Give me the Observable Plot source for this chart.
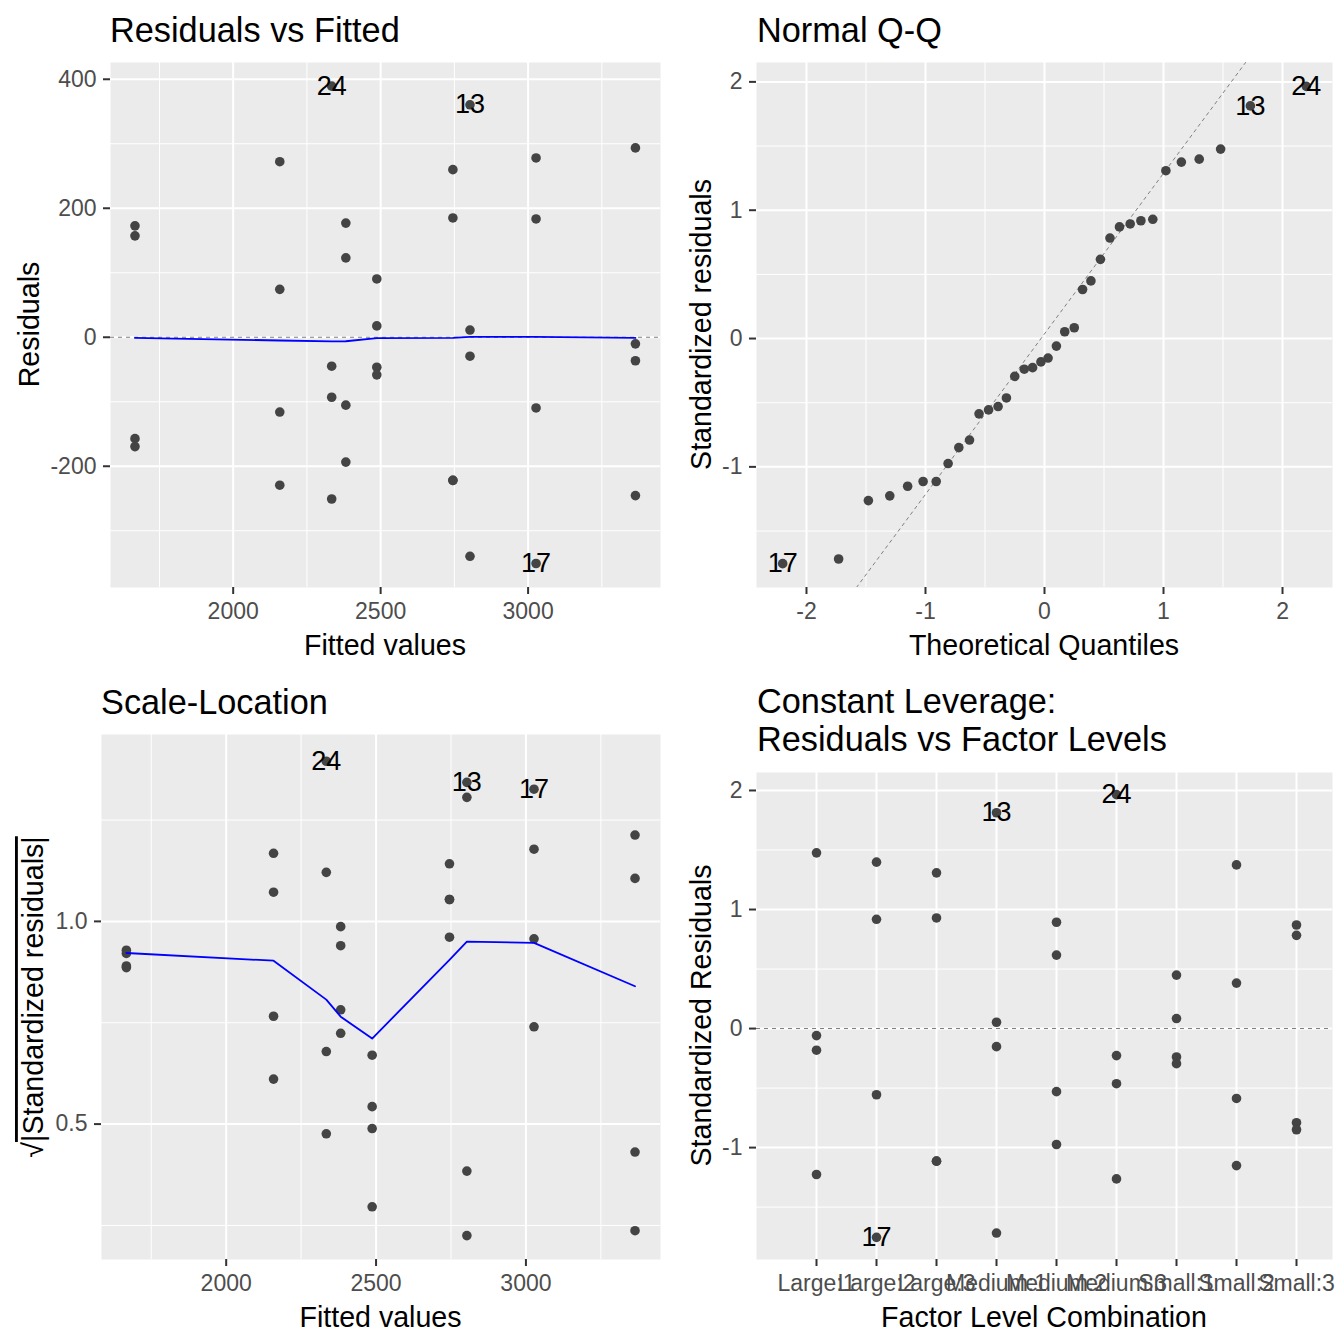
<!DOCTYPE html>
<html><head><meta charset="utf-8">
<script src="https://cdn.jsdelivr.net/npm/d3@7"></script>
<script src="https://cdn.jsdelivr.net/npm/@observablehq/plot@0.6"></script>
<style>
html,body{margin:0;padding:0;background:#fff;}
#root{position:relative;width:1344px;height:1344px;background:#fff;}
#root svg{position:absolute;}
</style></head><body><div id="root"></div>
<script>
// ---------- data ----------
const levels = ["Large:1","Large:2","Large:3","Medium:1","Medium:2","Medium:3","Small:1","Small:2","Small:3"];
const levelFitted = [3364, 3027, 2745, 2803, 2382, 2334, 2487, 2158, 1667];
const residuals = [
  [293.6, -10.2, -36.4, -245.5],
  [278.0, 183.4, -109.6, -350.8],
  [259.9, 185.0, -221.9, -221.9],
  [360.4, 11.2, -29.4, -339.6],
  [177.0, 123.0, -105.3, -193.6],
  [389.3, -44.9, -93.0, -250.8],
  [90.4, 17.6, -46.5, -58.3],
  [272.2, 74.3, -116.0, -229.4],
  [172.7, 157.2, -157.2, -169.5]
];
const stdResiduals = [
  [1.476, -0.059, -0.182, -1.226],
  [1.398, 0.918, -0.556, -1.754],
  [1.308, 0.929, -1.114, -1.114],
  [1.813, 0.053, -0.152, -1.718],
  [0.893, 0.617, -0.530, -0.974],
  [1.965, -0.227, -0.463, -1.263],
  [0.449, 0.084, -0.239, -0.295],
  [1.375, 0.382, -0.587, -1.151],
  [0.870, 0.783, -0.791, -0.850]
];
const sqrtStdResiduals = [
  [1.213, 0.237, 0.431, 1.106],
  [1.178, 0.957, 0.740, 1.326],
  [1.142, 0.961, 1.054, 1.054],
  [1.343, 0.225, 0.384, 1.306],
  [0.940, 0.782, 0.724, 0.987],
  [1.395, 0.476, 0.679, 1.121],
  [0.670, 0.296, 0.489, 0.543],
  [1.168, 0.611, 0.766, 1.072],
  [0.929, 0.886, 0.890, 0.921]
];
const pointLabels = [
  ["","","",""],["","","","17"],["","","",""],["13","","",""],["","","",""],
  ["24","","",""],["","","",""],["","","",""],["","","",""]
];
const qqTheoretical = [-2.20,-1.73,-1.48,-1.30,-1.15,-1.02,-0.91,-0.81,-0.72,-0.63,-0.55,-0.47,-0.39,-0.32,-0.25,-0.17,-0.10,-0.03,
  0.03,0.10,0.17,0.25,0.32,0.39,0.47,0.55,0.63,0.72,0.81,0.91,1.02,1.15,1.30,1.48,1.73,2.20];
const qqSample = [-1.754,-1.718,-1.263,-1.226,-1.151,-1.114,-1.114,-0.974,-0.850,-0.791,-0.587,-0.556,-0.530,-0.463,-0.295,-0.239,-0.227,-0.182,
  -0.152,-0.059,0.053,0.084,0.382,0.449,0.617,0.783,0.870,0.893,0.918,0.929,1.308,1.375,1.398,1.476,1.813,1.965];
const qqLabelIndex = {0: "17", 34: "13", 35: "24"};
const qqLineX = [-1.58, 1.69];
const qqLineY = [-1.94, 2.151];
const smoothFitted = [1667, 2158, 2334, 2382, 2487, 2745, 2803, 3027, 3364];
const smoothResid = [-1.0, -5.0, -6.3, -6.2, -1.5, -1.0, 0.5, 0.5, -1.0];
const smoothScale = [0.922, 0.903, 0.807, 0.765, 0.711, 0.905, 0.950, 0.947, 0.840];

const fitTicks = [2000, 2500, 3000], fitMinor = [1750, 2250, 2750, 3250];
const residTicks = [-200, 0, 200, 400], residMinor = [-300, -100, 100, 300];
const qTicks = [-2, -1, 0, 1, 2], qMinor = [-1.5, -0.5, 0.5, 1.5];
const stdTicks = [-1, 0, 1, 2], stdMinor = [-1.5, -0.5, 0.5, 1.5];
const sqTicks = [0.5, 1.0], sqMinor = [0.25, 0.75, 1.25];
const levelTicks = [1,2,3,4,5,6,7,8,9];

// ---------- tables ----------
const obs = [];
levels.forEach((lv, i) => residuals[i].forEach((r, j) => obs.push({
  level: lv, li: i + 1, fitted: levelFitted[i], resid: r,
  std: stdResiduals[i][j], sq: sqrtStdResiduals[i][j], label: pointLabels[i][j]
})));
const labelled = obs.filter(d => d.label);
const qq = qqTheoretical.map((t, i) => ({t, s: qqSample[i], label: qqLabelIndex[i] || ""}));
const qqLine = qqLineX.map((x, i) => ({x, y: qqLineY[i]}));
const smooth1 = smoothFitted.map((f, i) => ({f, v: smoothResid[i]}));
const smooth3 = smoothFitted.map((f, i) => ({f, v: smoothScale[i]}));

// ---------- styling ----------
const FONT = '"Liberation Sans", Arial, Helvetica, sans-serif';
const BG = "#EBEBEB", PT = "#444444", TICKC = "#333333", TICKTXT = "#4D4D4D";
const R = 4.8;
const fmt = d => String(d);

function panel({xd, yd, mt, ml, xTicks, xMinor, yTicks, yMinor, xFormat = fmt, yFormat = fmt, marks}) {
  const grid = [Plot.frame({fill: BG, stroke: "none"})];
  if (xMinor) grid.push(Plot.gridX(xMinor, {stroke: "white", strokeOpacity: 1, strokeWidth: 1}));
  if (yMinor) grid.push(Plot.gridY(yMinor, {stroke: "white", strokeOpacity: 1, strokeWidth: 1}));
  grid.push(Plot.gridX(xTicks, {stroke: "white", strokeOpacity: 1, strokeWidth: 2}));
  grid.push(Plot.gridY(yTicks, {stroke: "white", strokeOpacity: 1, strokeWidth: 2}));
  return Plot.plot({
    width: 672, height: 672,
    marginTop: mt, marginLeft: ml, marginRight: 12, marginBottom: 85,
    style: {fontFamily: FONT, background: "transparent", overflow: "visible"},
    x: {domain: xd, label: null},
    y: {domain: yd, label: null},
    marks: [
      ...grid,
      Plot.axisX(xTicks, {tickSize: 7, tickPadding: 8, stroke: TICKC, strokeWidth: 2, fill: TICKTXT, fontSize: 23, tickFormat: xFormat, label: null}),
      Plot.axisY(yTicks, {tickSize: 7, tickPadding: 7, stroke: TICKC, strokeWidth: 2, fill: TICKTXT, fontSize: 23, tickFormat: yFormat, label: null}),
      ...marks
    ]
  });
}

function addText(svg, {x, y, text, size, anchor = "start", rotate = false}) {
  const t = d3.select(svg).append("text")
    .attr("font-family", FONT).attr("font-size", size).attr("fill", "black")
    .attr("text-anchor", anchor)
    .attr("transform", rotate ? `translate(${x},${y}) rotate(-90)` : `translate(${x},${y})`);
  t.text(text);
  return t;
}

const root = document.getElementById("root");
function place(svg, left, top) { svg.style.left = left + "px"; svg.style.top = top + "px"; root.appendChild(svg); }

// Panel 1: Residuals vs Fitted
const p1 = panel({
  xd: [1584, 3449], yd: [-388, 426], mt: 62, ml: 110,
  xTicks: fitTicks, xMinor: fitMinor, yTicks: residTicks, yMinor: residMinor,
  marks: [
    Plot.ruleY([0], {stroke: "#808080", strokeDasharray: "4 4", strokeWidth: 1.1}),
    Plot.dot(obs, {x: "fitted", y: "resid", r: R, fill: PT, stroke: "none"}),
    Plot.line(smooth1, {x: "f", y: "v", stroke: "blue", strokeWidth: 1.8}),
    Plot.text(labelled, {x: "fitted", y: "resid", text: "label", fontSize: 27, fill: "black"})
  ]
});
addText(p1, {x: 110, y: 42, text: "Residuals vs Fitted", size: 34.3});
addText(p1, {x: 385, y: 655, text: "Fitted values", size: 28.6, anchor: "middle"});
addText(p1, {x: 38.5, y: 324.5, text: "Residuals", size: 28.6, anchor: "middle", rotate: true});
place(p1, 0, 0);

// Panel 2: Normal Q-Q
const p2 = panel({
  xd: [-2.42, 2.42], yd: [-1.94, 2.151], mt: 62, ml: 84,
  xTicks: qTicks, xMinor: qMinor, yTicks: stdTicks, yMinor: stdMinor,
  marks: [
    Plot.line(qqLine, {x: "x", y: "y", stroke: "#808080", strokeDasharray: "3 4", strokeWidth: 1, clip: true}),
    Plot.dot(qq, {x: "t", y: "s", r: R, fill: PT, stroke: "none"}),
    Plot.text(qq.filter(d => d.label), {x: "t", y: "s", text: "label", fontSize: 27, fill: "black"})
  ]
});
addText(p2, {x: 85, y: 42, text: "Normal Q-Q", size: 34.3});
addText(p2, {x: 372, y: 655, text: "Theoretical Quantiles", size: 28.6, anchor: "middle"});
addText(p2, {x: 38.5, y: 324.5, text: "Standardized residuals", size: 28.6, anchor: "middle", rotate: true});
place(p2, 672, 0);

// Panel 3: Scale-Location
const p3 = panel({
  xd: [1584, 3449], yd: [0.166, 1.461], mt: 62, ml: 101,
  xTicks: fitTicks, xMinor: fitMinor, yTicks: sqTicks, yMinor: sqMinor,
  yFormat: d3.format(".1f"),
  marks: [
    Plot.dot(obs, {x: "fitted", y: "sq", r: R, fill: PT, stroke: "none"}),
    Plot.line(smooth3, {x: "f", y: "v", stroke: "blue", strokeWidth: 1.8}),
    Plot.text(labelled, {x: "fitted", y: "sq", text: "label", fontSize: 27, fill: "black"})
  ]
});
addText(p3, {x: 101, y: 42, text: "Scale-Location", size: 34.3});
addText(p3, {x: 380.5, y: 655, text: "Fitted values", size: 28.6, anchor: "middle"});
{
  const t = d3.select(p3).append("text")
    .attr("font-family", FONT).attr("font-size", 28.6).attr("fill", "black")
    .attr("text-anchor", "middle")
    .attr("transform", "translate(43,325) rotate(-90)");
  t.append("tspan").text("√");
  t.append("tspan").attr("text-decoration", "overline").style("text-decoration", "overline").text("|Standardized residuals|");
}
place(p3, 0, 672);

// Panel 4: Constant Leverage
const p4 = panel({
  xd: [0, 9.6], yd: [-1.94, 2.151], mt: 100, ml: 84,
  xTicks: levelTicks, xMinor: null, yTicks: stdTicks, yMinor: stdMinor,
  xFormat: i => levels[i - 1],
  marks: [
    Plot.ruleY([0], {stroke: "#808080", strokeDasharray: "4 4", strokeWidth: 1.1}),
    Plot.dot(obs, {x: "li", y: "std", r: R, fill: PT, stroke: "none"}),
    Plot.text(labelled, {x: "li", y: "std", text: "label", fontSize: 27, fill: "black"})
  ]
});
addText(p4, {x: 85, y: 41, text: "Constant Leverage:", size: 34.3});
addText(p4, {x: 85, y: 79, text: "Residuals vs Factor Levels", size: 34.3});
addText(p4, {x: 372, y: 655, text: "Factor Level Combination", size: 28.6, anchor: "middle"});
addText(p4, {x: 38.5, y: 343.5, text: "Standardized Residuals", size: 28.6, anchor: "middle", rotate: true});
place(p4, 672, 672);
</script>
</body></html>
